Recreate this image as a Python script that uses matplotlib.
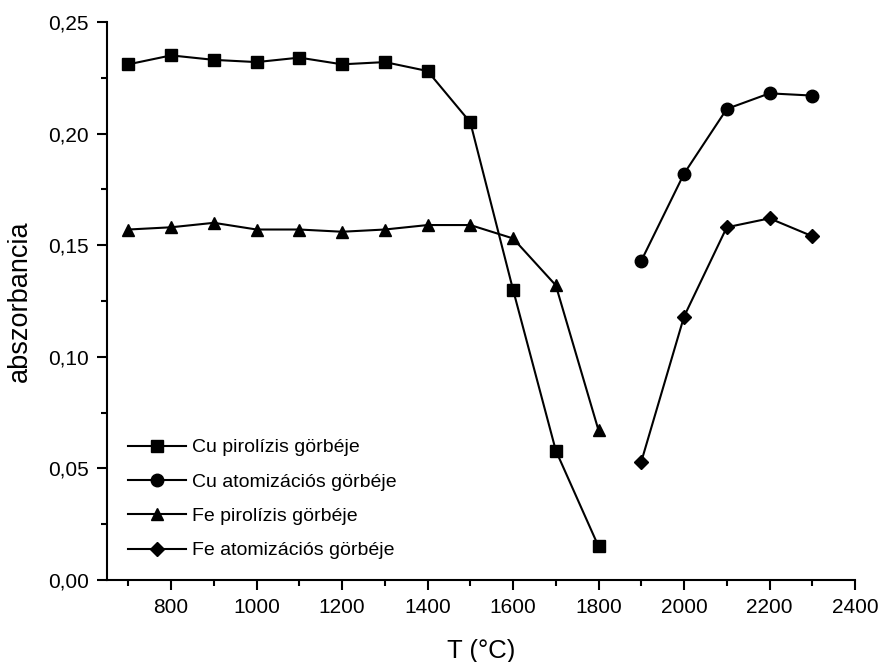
import numpy as np
import matplotlib.pyplot as plt
from matplotlib.ticker import MultipleLocator, FuncFormatter

plt.rcParams['font.family'] = ['Liberation Sans', 'DejaVu Sans']

# ---- data ------------------------------------------------------------------
T_pyro = [700, 800, 900, 1000, 1100, 1200, 1300, 1400, 1500, 1600, 1700, 1800]
T_atom = [1900, 2000, 2100, 2200, 2300]

cu_pyro = [0.231, 0.235, 0.233, 0.232, 0.234, 0.231, 0.232, 0.228, 0.205, 0.130, 0.058, 0.015]
cu_atom = [0.143, 0.182, 0.211, 0.218, 0.217]
fe_pyro = [0.157, 0.158, 0.160, 0.157, 0.157, 0.156, 0.157, 0.159, 0.159, 0.153, 0.132, 0.067]
fe_atom = [0.053, 0.118, 0.158, 0.162, 0.154]

labels = ["Cu pirolízis görbéje", "Cu atomizációs görbéje",
          "Fe pirolízis görbéje", "Fe atomizációs görbéje"]

# ---- plot ------------------------------------------------------------------
fig = plt.figure(figsize=(8.8, 6.62), dpi=100)
ax = fig.add_axes([0.1216, 0.1239, 0.85, 0.843])

kw = dict(color="black", lw=1.5)
ax.plot(T_pyro, cu_pyro, marker="s", ms=8, label=labels[0], **kw)
ax.plot(T_atom, cu_atom, marker="o", ms=9, label=labels[1], **kw)
ax.plot(T_pyro, fe_pyro, marker="^", ms=9, label=labels[2], **kw)
ax.plot(T_atom, fe_atom, marker="D", ms=7.5, label=labels[3], **kw)

ax.set_xlim(650, 2400)
ax.set_ylim(0, 0.25)
ax.xaxis.set_major_locator(MultipleLocator(200))
ax.xaxis.set_minor_locator(MultipleLocator(100))
ax.yaxis.set_major_locator(MultipleLocator(0.05))
ax.yaxis.set_minor_locator(MultipleLocator(0.025))
ax.yaxis.set_major_formatter(FuncFormatter(lambda v, p: f"{v:.2f}".replace(".", ",")))

for s in ["top", "right"]:
    ax.spines[s].set_visible(False)
for s in ["left", "bottom"]:
    ax.spines[s].set_linewidth(1.5)

ax.tick_params(which="major", direction="out", length=7, width=1.5, labelsize=15, pad=6)
ax.tick_params(which="minor", direction="out", length=4, width=1.5)

ax.set_xlabel("T (°C)", fontsize=18.5, labelpad=16)
ax.set_ylabel("abszorbancia", fontsize=19.5, labelpad=11)

ax.legend(loc="lower left", bbox_to_anchor=(0.028, 0.037), frameon=False, fontsize=14,
          handlelength=3.0, handletextpad=0.3, labelspacing=0.86,
          borderaxespad=0, borderpad=0)

fig.savefig("out.png", dpi=100)
